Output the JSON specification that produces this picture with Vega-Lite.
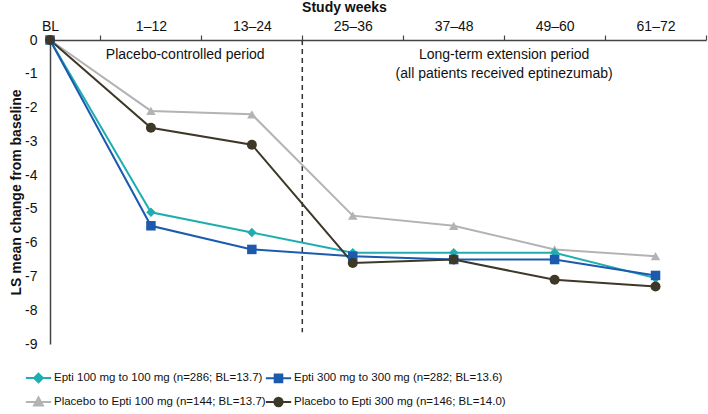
{
  "$schema": "https://vega.github.io/schema/vega-lite/v6.json",
  "width": 656,
  "height": 304,
  "autosize": {"type": "none"},
  "padding": {"left": 50, "top": 40, "right": 2, "bottom": 70},
  "background": "white",
  "config": {
    "view": {"stroke": null},
    "font": "Liberation Sans",
    "axis": {"grid": false, "domainColor": "#444", "domainWidth": 1.5, "labelColor": "#111", "titleColor": "#111", "labelFont": "Liberation Sans", "titleFont": "Liberation Sans", "labelOverlap": false, "labelFlush": false, "labelBound": false}
  },
  "datasets": {
    "lsmeans": [
      {"series": "Epti 100 mg to 100 mg (n=286; BL=13.7)", "week": 0, "change": 0},
      {"series": "Epti 100 mg to 100 mg (n=286; BL=13.7)", "week": 1, "change": -5.1},
      {"series": "Epti 100 mg to 100 mg (n=286; BL=13.7)", "week": 2, "change": -5.7},
      {"series": "Epti 100 mg to 100 mg (n=286; BL=13.7)", "week": 3, "change": -6.3},
      {"series": "Epti 100 mg to 100 mg (n=286; BL=13.7)", "week": 4, "change": -6.3},
      {"series": "Epti 100 mg to 100 mg (n=286; BL=13.7)", "week": 5, "change": -6.3},
      {"series": "Epti 100 mg to 100 mg (n=286; BL=13.7)", "week": 6, "change": -7.05},
      {"series": "Epti 300 mg to 300 mg (n=282; BL=13.6)", "week": 0, "change": 0},
      {"series": "Epti 300 mg to 300 mg (n=282; BL=13.6)", "week": 1, "change": -5.5},
      {"series": "Epti 300 mg to 300 mg (n=282; BL=13.6)", "week": 2, "change": -6.2},
      {"series": "Epti 300 mg to 300 mg (n=282; BL=13.6)", "week": 3, "change": -6.4},
      {"series": "Epti 300 mg to 300 mg (n=282; BL=13.6)", "week": 4, "change": -6.5},
      {"series": "Epti 300 mg to 300 mg (n=282; BL=13.6)", "week": 5, "change": -6.5},
      {"series": "Epti 300 mg to 300 mg (n=282; BL=13.6)", "week": 6, "change": -6.97},
      {"series": "Placebo to Epti 100 mg (n=144; BL=13.7)", "week": 0, "change": 0},
      {"series": "Placebo to Epti 100 mg (n=144; BL=13.7)", "week": 1, "change": -2.1},
      {"series": "Placebo to Epti 100 mg (n=144; BL=13.7)", "week": 2, "change": -2.2},
      {"series": "Placebo to Epti 100 mg (n=144; BL=13.7)", "week": 3, "change": -5.2},
      {"series": "Placebo to Epti 100 mg (n=144; BL=13.7)", "week": 4, "change": -5.5},
      {"series": "Placebo to Epti 100 mg (n=144; BL=13.7)", "week": 5, "change": -6.2},
      {"series": "Placebo to Epti 100 mg (n=144; BL=13.7)", "week": 6, "change": -6.4},
      {"series": "Placebo to Epti 300 mg (n=146; BL=14.0)", "week": 0, "change": 0},
      {"series": "Placebo to Epti 300 mg (n=146; BL=14.0)", "week": 1, "change": -2.6},
      {"series": "Placebo to Epti 300 mg (n=146; BL=14.0)", "week": 2, "change": -3.1},
      {"series": "Placebo to Epti 300 mg (n=146; BL=14.0)", "week": 3, "change": -6.6},
      {"series": "Placebo to Epti 300 mg (n=146; BL=14.0)", "week": 4, "change": -6.5},
      {"series": "Placebo to Epti 300 mg (n=146; BL=14.0)", "week": 5, "change": -7.1},
      {"series": "Placebo to Epti 300 mg (n=146; BL=14.0)", "week": 6, "change": -7.3}
    ]
  },
  "layer": [
    {
      "data": {"values": [{}]},
      "mark": {"type": "rule", "color": "#333", "strokeDash": [5, 4], "strokeWidth": 1.5},
      "encoding": {
        "x": {"datum": 2.5, "type": "quantitative", "scale": {"domain": [0, 6.5], "nice": false, "zero": false}},
        "y": {"datum": 0, "type": "quantitative", "scale": {"domain": [-9, 0], "nice": false}},
        "y2": {"datum": -8.65}
      }
    },
    {
      "data": {"values": [{}]},
      "mark": {"type": "text", "fontSize": 14, "font": "Liberation Sans", "color": "#111", "align": "center", "baseline": "middle"},
      "encoding": {
        "x": {"datum": 1.34, "type": "quantitative"},
        "y": {"datum": -0.44, "type": "quantitative"},
        "text": {"value": "Placebo-controlled period"}
      }
    },
    {
      "data": {"values": [{}]},
      "mark": {"type": "text", "fontSize": 14, "font": "Liberation Sans", "color": "#111", "align": "center", "baseline": "middle", "lineHeight": 19},
      "encoding": {
        "x": {"datum": 4.5, "type": "quantitative"},
        "y": {"datum": -0.44, "type": "quantitative"},
        "text": {"value": ["Long-term extension period", "(all patients received eptinezumab)"]}
      }
    },
    {
      "data": {"name": "lsmeans"},
      "mark": {"type": "line", "strokeWidth": 2},
      "encoding": {
        "x": {
          "field": "week", "type": "quantitative",
          "axis": {
            "orient": "top", "values": [0.5, 1.5, 2.5, 3.5, 4.5, 5.5, 6.5], "tickCount": 20,
            "labelExpr": "['BL','1–12','13–24','25–36','37–48','49–60','61–72'][floor(datum.value)]",
            "labelOffset": -50.46, "labelOverlap": false, "labelFlush": false,
            "tickSize": 5, "tickColor": "#444", "tickWidth": 1.2,
            "labelFontSize": 14, "labelPadding": 2,
            "title": "Study weeks", "titleFontSize": 14, "titleFontWeight": "bold",
            "titleX": 294, "titleY": -33, "titleBaseline": "middle", "titleAlign": "center"
          }
        },
        "y": {
          "field": "change", "type": "quantitative",
          "axis": {
            "values": [0, -1, -2, -3, -4, -5, -6, -7, -8, -9], "tickCount": 20,
            "labelExpr": "datum.value == 0 ? '0' : '-' + abs(datum.value)",
            "labelOverlap": false, "labelFlush": false,
            "ticks": false, "labelPadding": 13, "labelFontSize": 14,
            "title": "LS mean change from baseline", "titleFontSize": 14, "titleFontWeight": "bold",
            "titleX": -34, "titleY": 152, "titleAlign": "center", "titleBaseline": "middle"
          }
        },
        "color": {
          "field": "series", "type": "nominal",
          "scale": {
            "domain": ["Epti 100 mg to 100 mg (n=286; BL=13.7)", "Epti 300 mg to 300 mg (n=282; BL=13.6)", "Placebo to Epti 100 mg (n=144; BL=13.7)", "Placebo to Epti 300 mg (n=146; BL=14.0)"],
            "range": ["#1FAEB0", "#1C5AAE", "#B3B3B3", "#3D3828"]
          },
          "legend": {
            "orient": "none", "legendX": -24, "legendY": 325.5, "direction": "horizontal", "columns": 2,
            "title": null, "padding": 0, "columnPadding": -15, "rowPadding": 3,
            "labelFont": "Liberation Sans", "labelFontSize": 11.5, "labelColor": "#111", "labelOffset": 3, "labelLimit": 0,
            "symbolSize": 529, "symbolStrokeWidth": 2,
            "encode": {
              "symbols": {
                "update": {
                  "shape": {"signal": "['M-1.1,0H1.1M0,-0.38L0.38,0L0,0.38L-0.38,0Z','M-1.1,0H1.1M-0.33,-0.33H0.33V0.33H-0.33Z','M-1.1,0H1.1M0,-0.4L0.38,0.3H-0.38Z','M-1.1,0H1.1M0.36,0A0.36,0.36,0,1,1,-0.36,0A0.36,0.36,0,1,1,0.36,0Z'][datum.index]"},
                  "fill": {"scale": "color", "field": "value"},
                  "stroke": {"scale": "color", "field": "value"},
                  "strokeWidth": {"value": 2}
                }
              }
            }
          }
        }
      }
    },
    {
      "data": {"name": "lsmeans"},
      "transform": [{"filter": "datum.series == 'Placebo to Epti 100 mg (n=144; BL=13.7)'"}],
      "mark": {"type": "point", "filled": true, "opacity": 1, "size": 90, "shape": "triangle-up", "color": "#B3B3B3"},
      "encoding": {
        "x": {"field": "week", "type": "quantitative"},
        "y": {"field": "change", "type": "quantitative"}
      }
    },
    {
      "data": {"name": "lsmeans"},
      "transform": [{"filter": "datum.series == 'Epti 100 mg to 100 mg (n=286; BL=13.7)'"}],
      "mark": {"type": "point", "filled": true, "opacity": 1, "size": 90, "shape": "diamond", "color": "#1FAEB0"},
      "encoding": {
        "x": {"field": "week", "type": "quantitative"},
        "y": {"field": "change", "type": "quantitative"}
      }
    },
    {
      "data": {"name": "lsmeans"},
      "transform": [{"filter": "datum.series == 'Epti 300 mg to 300 mg (n=282; BL=13.6)'"}],
      "mark": {"type": "point", "filled": true, "opacity": 1, "size": 90, "shape": "square", "color": "#1C5AAE"},
      "encoding": {
        "x": {"field": "week", "type": "quantitative"},
        "y": {"field": "change", "type": "quantitative"}
      }
    },
    {
      "data": {"name": "lsmeans"},
      "transform": [{"filter": "datum.series == 'Placebo to Epti 300 mg (n=146; BL=14.0)'"}],
      "mark": {"type": "point", "filled": true, "opacity": 1, "size": 100, "shape": "circle", "color": "#3D3828"},
      "encoding": {
        "x": {"field": "week", "type": "quantitative"},
        "y": {"field": "change", "type": "quantitative"}
      }
    }
  ]
}
